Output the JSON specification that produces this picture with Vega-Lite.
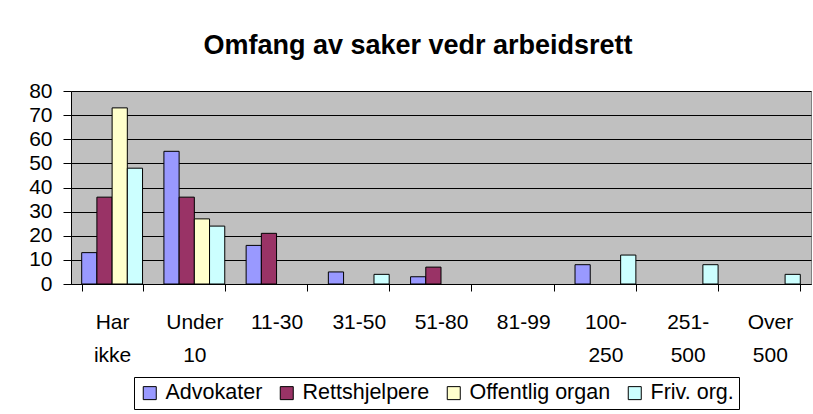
{
  "$schema": "https://vega.github.io/schema/vega-lite/v6.json",
  "autosize": "none",
  "width": 740,
  "height": 193,
  "padding": {"left": 71, "top": 91, "right": 2, "bottom": 130},
  "background": "white",
  "title": {
    "text": "Omfang av saker vedr arbeidsrett",
    "font": "Liberation Sans",
    "fontSize": 27,
    "fontWeight": "bold",
    "color": "black",
    "anchor": "middle",
    "dx": -23,
    "dy": 25,
    "baseline": "alphabetic",
    "offset": 24
  },
  "data": {
    "values": [
      {"kategori": "Har ikke", "serie": "Advokater", "antall": 13},
      {"kategori": "Har ikke", "serie": "Rettshjelpere", "antall": 36},
      {"kategori": "Har ikke", "serie": "Offentlig organ", "antall": 73},
      {"kategori": "Har ikke", "serie": "Friv. org.", "antall": 48},
      {"kategori": "Under 10", "serie": "Advokater", "antall": 55},
      {"kategori": "Under 10", "serie": "Rettshjelpere", "antall": 36},
      {"kategori": "Under 10", "serie": "Offentlig organ", "antall": 27},
      {"kategori": "Under 10", "serie": "Friv. org.", "antall": 24},
      {"kategori": "11-30", "serie": "Advokater", "antall": 16},
      {"kategori": "11-30", "serie": "Rettshjelpere", "antall": 21},
      {"kategori": "31-50", "serie": "Advokater", "antall": 5},
      {"kategori": "31-50", "serie": "Friv. org.", "antall": 4},
      {"kategori": "51-80", "serie": "Advokater", "antall": 3},
      {"kategori": "51-80", "serie": "Rettshjelpere", "antall": 7},
      {"kategori": "100-250", "serie": "Advokater", "antall": 8},
      {"kategori": "100-250", "serie": "Friv. org.", "antall": 12},
      {"kategori": "251-500", "serie": "Friv. org.", "antall": 8},
      {"kategori": "Over 500", "serie": "Friv. org.", "antall": 4}
    ]
  },
  "mark": {"type": "bar", "stroke": "black", "strokeWidth": 1},
  "encoding": {
    "x": {
      "field": "kategori",
      "type": "nominal",
      "sort": ["Har ikke", "Under 10", "11-30", "31-50", "51-80", "81-99", "100-250", "251-500", "Over 500"],
      "scale": {"domain": ["Har ikke", "Under 10", "11-30", "31-50", "51-80", "81-99", "100-250", "251-500", "Over 500"], "paddingInner": 0.26, "paddingOuter": 0.13},
      "axis": {
        "title": null,
        "labelAngle": 0,
        "tickBand": "extent",
        "labelExpr": "!isValid(datum.value) ? '' : datum.value == '100-250' ? ['100-', '250'] : datum.value == '251-500' ? ['251-', '500'] : split(datum.value, ' ')",
        "labelFont": "Liberation Sans",
        "labelFontSize": 21,
        "labelColor": "black",
        "labelLineHeight": 33,
        "labelBaseline": "top",
        "labelPadding": 20,
        "tickSize": 7,
        "tickColor": "black",
        "domainColor": "black",
        "grid": false
      }
    },
    "xOffset": {
      "field": "serie",
      "type": "nominal",
      "scale": {"domain": ["Advokater", "Rettshjelpere", "Offentlig organ", "Friv. org."], "paddingInner": 0, "paddingOuter": 0}
    },
    "y": {
      "field": "antall",
      "type": "quantitative",
      "scale": {"domain": [0, 80], "nice": false},
      "axis": {
        "title": null,
        "values": [0, 10, 20, 30, 40, 50, 60, 70, 80],
        "labelFont": "Liberation Sans",
        "labelFontSize": 21,
        "labelColor": "black",
        "labelPadding": 11,
        "tickSize": 8,
        "tickColor": "black",
        "domainColor": "black",
        "grid": true,
        "gridColor": "black",
        "gridWidth": 1
      }
    },
    "color": {
      "field": "serie",
      "type": "nominal",
      "scale": {
        "domain": ["Advokater", "Rettshjelpere", "Offentlig organ", "Friv. org."],
        "range": ["#9999FF", "#993366", "#FFFFCC", "#CCFFFF"]
      },
      "legend": {
        "title": null,
        "orient": "none",
        "legendX": 63,
        "legendY": 286,
        "direction": "horizontal",
        "symbolType": "square",
        "symbolSize": 169,
        "symbolStrokeColor": "black",
        "symbolStrokeWidth": 1,
        "labelFont": "Liberation Sans",
        "labelFontSize": 21.5,
        "labelColor": "black",
        "labelOffset": 5,
        "columnPadding": 13,
        "padding": 5,
        "strokeColor": "black",
        "fillColor": "white"
      }
    }
  },
  "config": {
    "view": {"fill": "#C0C0C0", "stroke": "#808080", "strokeWidth": 1},
    "axis": {"domainWidth": 1, "tickWidth": 1}
  }
}
